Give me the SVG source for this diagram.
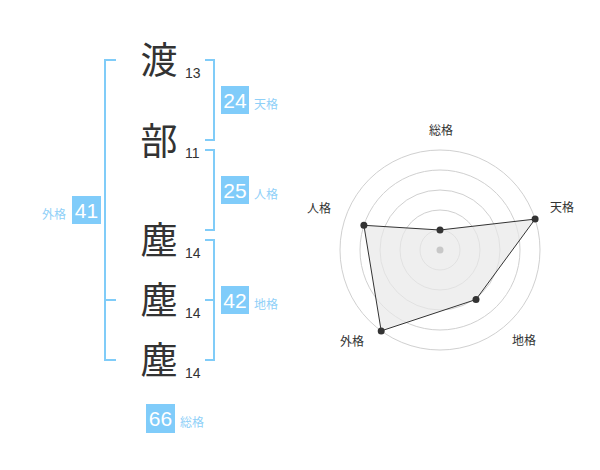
<svg xmlns="http://www.w3.org/2000/svg" width="600" height="470" viewBox="0 0 600 470">
<style>
.ch{font-family:"Noto Sans CJK JP","Noto Sans CJK SC",sans-serif;font-size:37px;fill:#333;text-anchor:middle}
.st{font-family:"Liberation Sans",Arial,sans-serif;font-size:14px;fill:#333}
.br{fill:none;stroke:#80ccf8;stroke-width:2}
.bx{fill:#80ccfa}
.bn{font-family:"Liberation Sans",Arial,sans-serif;font-size:21px;fill:#fff;text-anchor:middle}
.bl{font-family:"Noto Sans CJK JP","Noto Sans CJK SC",sans-serif;font-size:12px;fill:#8fd0f8}
.rl{font-family:"Noto Sans CJK JP","Noto Sans CJK SC",sans-serif;font-size:12px;fill:#333;text-anchor:middle}
.ring{fill:none;stroke:#d0d0d0;stroke-width:1}
.pt{fill:#333}
</style>
<rect width="600" height="470" fill="#fff"/>
<g id="chars">
<g id="c1"><text class="ch" x="159" y="74">渡</text><text class="st" x="185" y="78">13</text></g>
<g id="c2"><text class="ch" x="159" y="155">部</text><text class="st" x="185" y="158">11</text></g>
<g id="c3"><text class="ch" x="159" y="254">塵</text><text class="st" x="185" y="258">14</text></g>
<g id="c4"><text class="ch" x="159" y="314">塵</text><text class="st" x="185" y="318">14</text></g>
<g id="c5"><text class="ch" x="159" y="374">塵</text><text class="st" x="185" y="378">14</text></g>
</g>
<g id="connectors">
<path class="br" d="M205,60H214V140H205"/>
<path class="br" d="M205,150H214V230H205"/>
<path class="br" d="M205,240H214V360H205M214,300H205"/>
<path class="br" d="M116,60H105V360H116M105,300H116"/>
</g>
<g id="tenkaku"><rect class="bx" x="221" y="86" width="28" height="28"/><text class="bn" x="235" y="108">24</text><text class="bl" x="254" y="108.5">天格</text></g>
<g id="jinkaku"><rect class="bx" x="221" y="176" width="28" height="28"/><text class="bn" x="235" y="198">25</text><text class="bl" x="254" y="198.5">人格</text></g>
<g id="chikaku"><rect class="bx" x="221" y="286" width="28" height="28"/><text class="bn" x="235" y="308">42</text><text class="bl" x="254" y="308.5">地格</text></g>
<g id="gaikaku"><rect class="bx" x="72" y="196" width="29" height="28"/><text class="bn" x="86.5" y="218">41</text><text class="bl" x="42" y="218.5">外格</text></g>
<g id="soukaku"><rect class="bx" x="146" y="404" width="29" height="29"/><text class="bn" x="160.5" y="426">66</text><text class="bl" x="180" y="427">総格</text></g>
<g id="radar">
<circle class="ring" cx="440" cy="250" r="100"/>
<circle class="ring" cx="440" cy="250" r="80"/>
<circle class="ring" cx="440" cy="250" r="60"/>
<circle class="ring" cx="440" cy="250" r="40"/>
<circle class="ring" cx="440" cy="250" r="20"/>
<polygon points="440,230 535.1,219.1 476,299.5 381.2,330.9 363.9,225.3" fill="#e8e8e8" fill-opacity="0.7" stroke="#333" stroke-width="1"/>
<circle cx="440" cy="250" r="3.5" fill="#c8c8c8"/>
<circle class="pt" cx="440" cy="230" r="3.5"/>
<circle class="pt" cx="535.1" cy="219.1" r="3.5"/>
<circle class="pt" cx="476" cy="299.5" r="3.5"/>
<circle class="pt" cx="381.2" cy="330.9" r="3.5"/>
<circle class="pt" cx="363.9" cy="225.3" r="3.5"/>
<text class="rl" x="441" y="135">総格</text>
<text class="rl" x="562" y="212">天格</text>
<text class="rl" x="319" y="213">人格</text>
<text class="rl" x="352" y="346">外格</text>
<text class="rl" x="524" y="345">地格</text>
</g>
</svg>
